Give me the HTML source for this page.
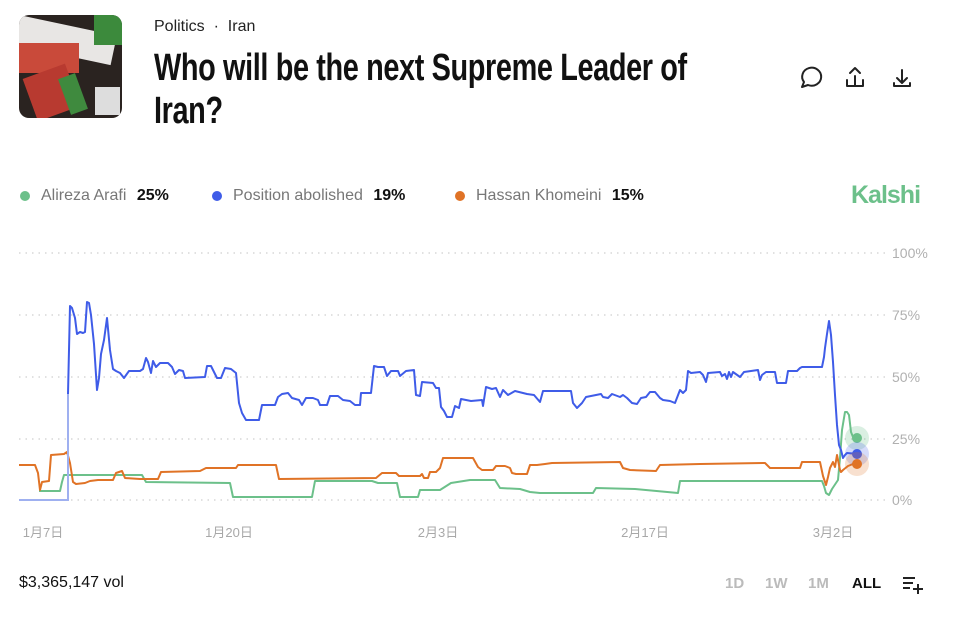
<!DOCTYPE html>
<html><head><meta charset="utf-8"><style>
body{margin:0;width:956px;height:619px;background:#fff;font-family:"Liberation Sans","Noto Sans CJK SC",sans-serif;position:relative;overflow:hidden}
.a{position:absolute;white-space:nowrap}
</style></head><body>
<div class="a" style="left:19px;top:15px;width:103px;height:103px;border-radius:10px;overflow:hidden;background:#2a2320">
<div style="position:absolute;left:0;top:0;width:100px;height:30px;background:#e8e6e4;transform:rotate(12deg);transform-origin:0 0"></div>
<div style="position:absolute;left:0;top:28px;width:60px;height:30px;background:#c94a3a"></div>
<div style="position:absolute;left:75px;top:0;width:28px;height:30px;background:#3c8a3c"></div>
<div style="position:absolute;left:10px;top:55px;width:45px;height:45px;background:#b83a30;transform:rotate(-20deg)"></div>
<div style="position:absolute;left:45px;top:60px;width:18px;height:38px;background:#3f8a3e;transform:rotate(-20deg)"></div>
<div style="position:absolute;left:76px;top:72px;width:25px;height:28px;background:#ddd"></div>
</div>
<div class="a" style="left:154px;top:18px;font-size:16px;color:#222">Politics &nbsp;·&nbsp; Iran</div>
<div class="a" style="left:154px;top:47px;font-size:38px;font-weight:bold;color:#111;line-height:43px;transform:scaleX(0.76);transform-origin:0 0;letter-spacing:-0.5px">Who will be the next Supreme Leader of<br>Iran?</div>
<svg class="a" style="left:0;top:0" width="956" height="619" viewBox="0 0 956 619">
<g fill="none" stroke="#222" stroke-width="2" stroke-linecap="round" stroke-linejoin="round">
<path d="M804 82 A9.5 9 0 1 1 808 85 L802 87 Z"/>
<path d="M855 76 v10 M850 73 l5 -5 5 5 M847 80 v6 h16 v-6"/>
<path d="M902 70 v12 M897 78 l5 5 5 -5 M894 83 v3 h16 v-3"/>
</g>
<g stroke="#cfcfcf" stroke-width="1.3" stroke-dasharray="1.5 5">
<line x1="19" y1="253" x2="885" y2="253"/><line x1="19" y1="315" x2="885" y2="315"/><line x1="19" y1="377" x2="885" y2="377"/><line x1="19" y1="439" x2="885" y2="439"/><line x1="19" y1="500" x2="885" y2="500"/>
</g>
<g font-size="14" fill="#b0b0b0" font-family="Liberation Sans,sans-serif">
<text x="892" y="258">100%</text><text x="892" y="320">75%</text><text x="892" y="382">50%</text><text x="892" y="444">25%</text><text x="892" y="505">0%</text>
</g>
<g font-size="13" fill="#a8a8a8" text-anchor="middle">
<text x="43" y="537">1月7日</text><text x="229" y="537">1月20日</text><text x="438" y="537">2月3日</text><text x="645" y="537">2月17日</text><text x="833" y="537">3月2日</text>
</g>
<polyline fill="none" stroke="#6cc08a" stroke-width="2" stroke-linejoin="round" points="39,491 60,491 62,482 64,475 142,475 146,482 230,483 233,497 312,497 315,481 372,481 378,483 397,483 400,497 418,497 420,490 440,490 451,483 470,480 495,480 500,488 520,489 530,492 540,493 560,493 593,493 596,488 635,489 678,493 680,481 822,481 824,486 826,493 829,495 832,489 838,480 840,458 842,430 845,412 847,412 849,415 851,432 853,437 858,438"/>
<polyline fill="none" stroke="#e07326" stroke-width="2" stroke-linejoin="round" points="19,465 35,465 38,473 40,490 42,482 49,481 51,455 64,454 67,452 70,463 73,482 76,484 85,483 90,481 98,480 113,480 116,473 122,471 125,478 140,479 158,479 161,472 200,471 206,468 236,468 238,465 276,465 279,479 376,478 382,473 396,473 399,476 420,476 422,474 424,478 428,478 430,472 436,472 440,468 443,458 473,458 478,467 482,470 493,470 496,466 505,466 510,468 512,473 516,474 527,474 530,465 537,465 545,464 552,463 620,462 623,468 630,470 656,471 660,465 700,464 765,463 770,468 800,468 802,462 820,462 823,476 826,485 828,477 830,468 833,462 835,467 837,455 840,470 841,472 843,470 848,466 853,464 858,464"/>
<polyline fill="none" stroke="#9fb0f0" stroke-width="2" points="19,500 68,500 68,394"/>
<polyline fill="none" stroke="#3f5ce8" stroke-width="2" stroke-linejoin="round" points="68,394 70,306 72,308 75,318 77,334 80,332 83,333 85,332 87,302 89,303 91,315 94,344 97,390 99,378 101,354 104,340 107,318 110,350 113,369 116,371 120,373 124,378 129,371 140,371 143,369 146,358 148,362 151,373 153,361 156,367 160,363 168,363 172,367 175,374 179,370 183,371 185,378 205,377 207,366 211,366 214,372 217,378 221,378 225,368 231,369 236,373 239,403 242,413 246,420 259,420 262,405 275,405 278,397 282,394 288,393 292,398 299,400 302,405 306,398 313,398 318,400 320,405 327,405 330,396 338,396 343,400 350,401 355,405 360,405 361,393 371,393 374,366 378,367 384,367 387,376 391,371 398,371 400,376 406,371 414,370 416,395 420,396 422,382 433,383 436,388 439,388 441,407 444,411 447,417 452,417 455,406 459,408 461,399 471,401 482,400 483,406 486,387 492,389 496,388 500,397 503,390 508,395 515,391 527,394 534,395 540,402 543,391 571,391 573,403 577,408 582,403 586,397 601,394 603,397 608,398 612,394 620,397 623,395 627,398 632,403 637,404 641,398 646,397 650,392 655,392 660,398 663,400 670,401 675,403 680,390 683,393 686,390 688,371 691,373 700,372 703,375 706,382 708,373 720,372 722,376 725,374 727,379 729,372 731,377 733,372 740,377 744,372 758,370 760,380 762,375 766,372 775,372 777,383 786,383 788,371 797,371 800,368 802,367 822,367 824,357 825,348 827,334 829,321 831,335 833,362 835,395 837,425 839,445 841,450 843,458 845,455 847,453 858,454"/>
<circle cx="857" cy="438" r="12" fill="#6cc08a" opacity=".25"/><circle cx="857" cy="438" r="5" fill="#6cc08a"/>
<circle cx="857" cy="454" r="12" fill="#3f5ce8" opacity=".22"/><circle cx="857" cy="454" r="5" fill="#3f5ce8"/>
<circle cx="857" cy="464" r="12" fill="#e07326" opacity=".22"/><circle cx="857" cy="464" r="5" fill="#e07326"/>
<circle cx="25" cy="196" r="5" fill="#6cc08a"/><circle cx="217" cy="196" r="5" fill="#3f5ce8"/><circle cx="460" cy="196" r="5" fill="#e07326"/>
<g stroke="#222" stroke-width="2"><line x1="903" y1="578" x2="915" y2="578"/><line x1="903" y1="583" x2="913" y2="583"/><line x1="903" y1="588" x2="910" y2="588"/><line x1="913" y1="589" x2="923" y2="589"/><line x1="918" y1="584" x2="918" y2="594"/></g>
</svg>
<div class="a" style="left:41px;top:187px;font-size:16px;color:#777">Alireza Arafi <b style="color:#111;margin-left:6px">25%</b></div>
<div class="a" style="left:233px;top:187px;font-size:16px;color:#777">Position abolished <b style="color:#111;margin-left:6px">19%</b></div>
<div class="a" style="left:476px;top:187px;font-size:16px;color:#777">Hassan Khomeini <b style="color:#111;margin-left:6px">15%</b></div>
<div class="a" style="left:851px;top:181px;font-size:25px;font-weight:bold;color:#6cc08a;letter-spacing:-1px">Kalshi</div>
<div class="a" style="left:19px;top:574px;font-size:16px;color:#111">$3,365,147 vol</div>
<div class="a" style="left:725px;top:575px;font-size:15px;font-weight:bold;color:#bbb">1D</div>
<div class="a" style="left:765px;top:575px;font-size:15px;font-weight:bold;color:#bbb">1W</div>
<div class="a" style="left:808px;top:575px;font-size:15px;font-weight:bold;color:#bbb">1M</div>
<div class="a" style="left:852px;top:575px;font-size:15px;font-weight:bold;color:#111">ALL</div>
</body></html>
